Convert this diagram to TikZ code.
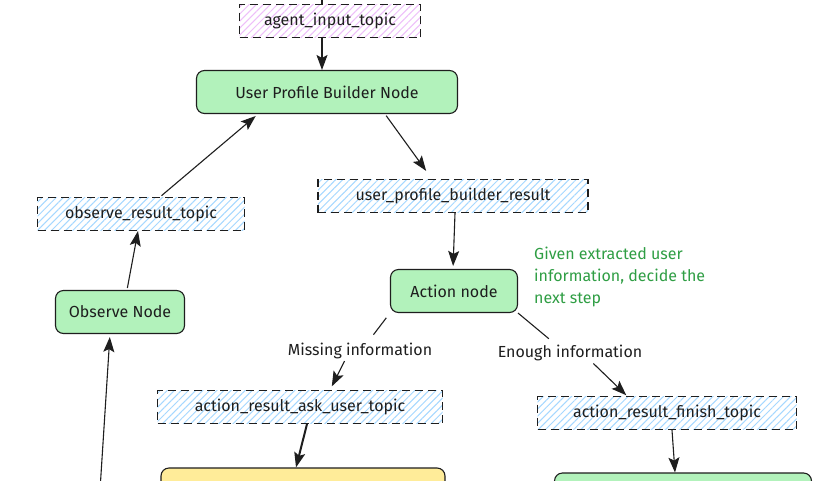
\documentclass[tikz,border=0pt]{standalone}
\usepackage{fontspec}
\setmainfont{Fira Sans}
\usepackage{tikz}
\usetikzlibrary{arrows.meta,patterns.meta}

\definecolor{nodegreen}{HTML}{B2F2BB}
\definecolor{nodeyellow}{HTML}{FFEC99}
\definecolor{hatchblue}{HTML}{A5D8FF}
\definecolor{hatchpink}{HTML}{EEBEFA}
\definecolor{notegreen}{HTML}{2F9E44}
\definecolor{ink}{HTML}{1E1E1E}

\begin{document}
\begin{tikzpicture}[x=1pt, y=-1pt, font=\fontsize{16}{22}\selectfont,
    topic/.style={draw=ink, line width=1.1pt, dash pattern=on 8pt off 5pt,
        pattern={Lines[angle=45,distance=5pt,line width=1pt]}, pattern color=hatchblue,
        minimum height=33pt, inner sep=0pt, text=ink},
    inputtopic/.style={topic, pattern color=hatchpink},
    agent/.style={draw=ink, line width=1.1pt, rounded corners=8pt, fill=nodegreen,
        minimum height=43pt, inner sep=0pt, text=ink},
    waiting/.style={agent, fill=nodeyellow},
    cond/.style={text=ink, inner sep=1pt},
    flow/.style={draw=ink, line width=1.1pt, -{Stealth[length=15pt,width=11pt,inset=3pt]}},
    line/.style={draw=ink, line width=1.1pt}]

    \clip (0,0) rectangle (838,480);
    \fill[white] (0,0) rectangle (838,480);

    % topics
    \node[inputtopic, minimum width=181pt] (ait) at (330, 21) {agent\_input\_topic};
    \node[topic, minimum width=270pt] (upbr) at (453, 196) {user\_profile\_builder\_result};
    \node[topic, minimum width=207pt] (ort) at (141, 214) {observe\_result\_topic};
    \node[topic, minimum width=285pt] (arat) at (300, 407) {action\_result\_ask\_user\_topic};
    \node[topic, minimum width=259pt] (arft) at (667, 413) {action\_result\_finish\_topic};

    % nodes
    \node[agent, minimum width=261pt] (upb) at (327, 92) {User Profile Builder Node};
    \node[agent, minimum width=127pt] (act) at (454, 291) {Action node};
    \node[agent, minimum width=129pt] (obs) at (120, 312) {Observe Node};
    % cut off at the bottom
    \node[waiting, minimum width=284pt, minimum height=44pt] (ask) at (303, 490) {};
    \node[agent, minimum width=257pt, minimum height=44pt] (fin) at (683, 495) {};

    % conditions
    \node[cond] (miss) at (360, 351) {Missing information};
    \node[cond] (enough) at (570, 353) {Enough information};

    % note
    \node[text=notegreen, anchor=north west, align=left, inner sep=0pt] (note) at (534, 247)
        {Given extracted user\\information, decide the\\next step};

    \coordinate (top) at (322, -10);
    \coordinate (obsin) at (100, 490);

    % connectors
    \draw[line] (top) -- ([xshift=-8pt]ait.north);
    \draw[flow] ([xshift=-8pt]ait.south) -- ([xshift=-5pt]upb.north);
    \draw[flow, shorten <=2pt, shorten >=10pt] ([xshift=58pt]upb.south) -- ([xshift=-21pt]upbr.north);
    \draw[flow, shorten >=3pt] ([xshift=2pt]upbr.south) -- ([xshift=-1pt]act.north);

    \draw[line, shorten <=6pt, shorten >=9pt] (act.south west) -- ([xshift=8pt]miss.north);
    \draw[flow, shorten <=1pt, shorten >=4pt] ([xshift=-15pt]miss.south) -- ([xshift=30pt]arat.north);
    \draw[line, shorten >=8pt] (act.south east) -- ([xshift=-15pt]enough.north);
    \draw[flow, shorten <=2pt, shorten >=1pt] ([xshift=22pt]enough.south) -- ([xshift=-40pt]arft.north);

    \draw[flow, line width=2pt] ([xshift=7pt]arat.south) -- ([xshift=-7pt]ask.north);
    \draw[flow] ([xshift=5pt]arft.south) -- ([xshift=-8pt]fin.north);

    \draw[flow, shorten <=2pt] ([xshift=7pt]obs.north) -- ([xshift=-3pt]ort.north |- ort.south);
    \draw[flow, shorten <=2pt, shorten >=3pt] ([xshift=19pt]ort.north) -- ([xshift=-69pt]upb.south);
    \draw[flow, shorten >=3pt] (obsin) -- ([xshift=-10pt]obs.south);

\end{tikzpicture}
\end{document}
